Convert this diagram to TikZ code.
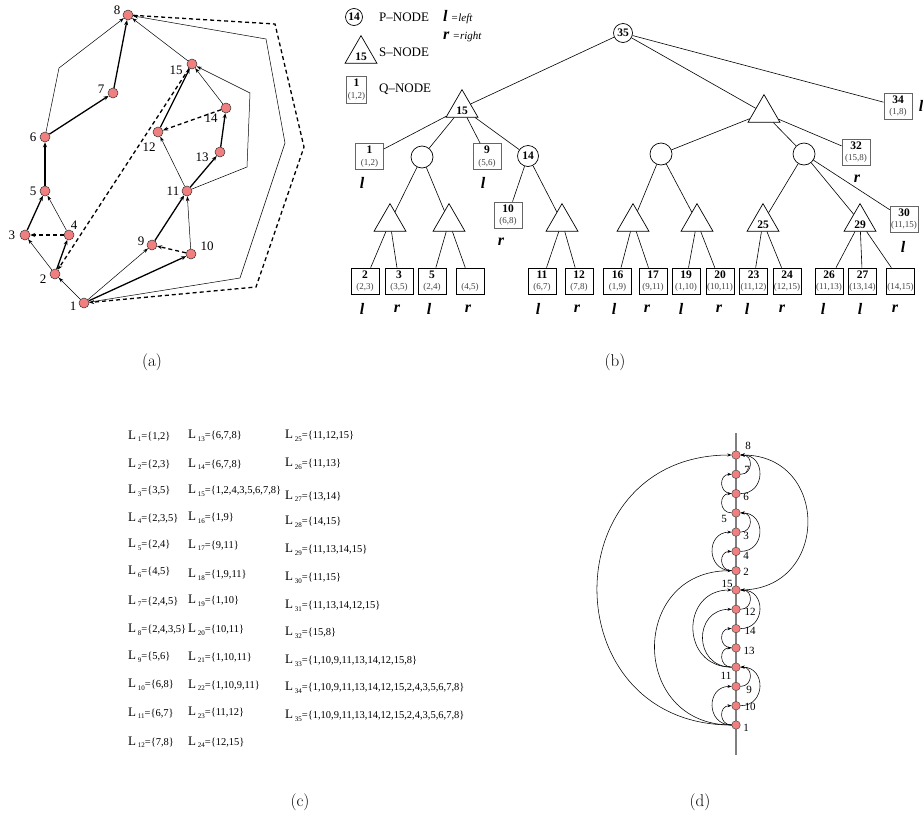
\documentclass[tikz,border=0pt]{standalone}
\usepackage{fontspec}
\usetikzlibrary{arrows.meta,shapes.geometric}
\newfontfamily\tnr{Liberation Serif}
\definecolor{nfill}{RGB}{240,128,128}
\definecolor{qgray}{gray}{0.4}
\newcommand{\qlab}[2]{\textbf{#1}\\[1.5pt]{\fontsize{9}{9}\selectfont\color{black!75}(#2)}}
\newcommand{\lsub}[2]{{\fontsize{13}{13}\selectfont L}\,\raisebox{-2.5pt}{\fontsize{7}{7}\selectfont #1}=\{#2\}}
\begin{document}
\begin{tikzpicture}[x=1pt,y=-1pt,
  gv/.style={circle,fill=nfill,draw=black!80,line width=0.5pt,inner sep=0pt,minimum size=10pt},
  glab/.style={font=\tnr\fontsize{13}{13}\selectfont,inner sep=0pt},
  thinA/.style={line width=0.5pt,-{Stealth[length=5pt,width=3.5pt]}},
  thickA/.style={line width=1.3pt,-{Stealth[length=5pt,width=4pt]}},
  dashA/.style={line width=1.3pt,dash pattern=on 4pt off 3pt,-{Stealth[length=5pt,width=4pt]}},
  pn/.style={circle,draw,line width=0.7pt,minimum size=21pt,inner sep=0pt,font=\tnr\bfseries\fontsize{11.5}{11.5}\selectfont},
  sn/.style={regular polygon,regular polygon sides=3,draw,line width=0.7pt,minimum size=35pt,inner sep=0pt,text height=13pt,text depth=0pt,font=\tnr\bfseries\fontsize{11.5}{11.5}\selectfont},
  qn/.style={rectangle,draw,line width=0.7pt,minimum width=28pt,minimum height=26pt,inner sep=0pt,align=center,font=\tnr\fontsize{11.5}{10}\selectfont},
  qg/.style={qn,draw=qgray},
  tl/.style={line width=0.6pt},
  lr/.style={font=\tnr\bfseries\itshape\fontsize{16}{16}\selectfont,inner sep=0pt},
  legt/.style={font=\tnr\fontsize{13}{13}\selectfont,anchor=west,inner sep=0pt},
  lst/.style={font=\tnr\fontsize{10.5}{11}\selectfont,anchor=west,inner sep=0pt},
  dv/.style={circle,fill=nfill,draw=black!70,line width=0.5pt,inner sep=0pt,minimum size=8.5pt},
  dlab/.style={font=\tnr\fontsize{11}{11}\selectfont,inner sep=0pt},
  dA/.style={line width=0.55pt,-{Stealth[length=4pt,width=3pt]}},
  captxt/.style={font=\fontsize{17}{17}\selectfont,inner sep=0pt}
]
\useasboundingbox (0,0) rectangle (923,817);

% ================= (a) =================
\node[gv] (v1) at (84,303) {};
\node[gv] (v2) at (55,274) {};
\node[gv] (v3) at (25,235) {};
\node[gv] (v4) at (69,235) {};
\node[gv] (v5) at (45,191) {};
\node[gv] (v6) at (45,137) {};
\node[gv] (v7) at (113,93) {};
\node[gv] (v8) at (128,15) {};
\node[gv] (v9) at (152,245) {};
\node[gv] (v10) at (191,254) {};
\node[gv] (v11) at (187,191) {};
\node[gv] (v12) at (158,132) {};
\node[gv] (v13) at (220,152) {};
\node[gv] (v14) at (226,108) {};
\node[gv] (v15) at (192,64) {};

\node[glab] (l1) at (73,306) {1};
\node[glab] (l2) at (43,279) {2};
\node[glab] (l3) at (12,235) {3};
\node[glab] (l4) at (74,225) {4};
\node[glab] (l5) at (33,191) {5};
\node[glab] (l6) at (33,137) {6};
\node[glab] (l7) at (101,89) {7};
\node[glab] (l8) at (117,10) {8};
\node[glab] (l9) at (141,241) {9};
\node[glab] (l10) at (207,246) {10};
\node[glab] (l11) at (173,191) {11};
\node[glab] (l12) at (149,147) {12};
\node[glab] (l13) at (202,157) {13};
\node[glab] (l14) at (211,118) {14};
\node[glab] (l15) at (176,70) {15};

\coordinate (p68) at (59,68);
\coordinate (p11a) at (247,167);
\coordinate (p11b) at (250,93);
\coordinate (p1a) at (240,278);
\coordinate (p1b) at (285,143);
\coordinate (p1c) at (266,39);
\coordinate (q1a) at (275,24);
\coordinate (q1b) at (304,147);
\coordinate (q1c) at (256,287);

\draw[thinA] (v1) -- (v2);
\draw[thinA] (v2) -- (v3);
\draw[thinA] (v4) -- (v5);
\draw[thinA] (v1) -- (v9);
\draw[thinA] (v10) -- (v11);
\draw[thinA] (v11) -- (v12);
\draw[thinA] (v14) -- (v15);
\draw[thinA] (v15) -- (v8);
\draw[thickA] (v2) -- (v4);
\draw[thickA] (v3) -- (v5);
\draw[thickA] (v5) -- (v6);
\draw[thickA] (v6) -- (v7);
\draw[thickA] (v7) -- (v8);
\draw[thickA] (v1) -- (v10);
\draw[thickA] (v9) -- (v11);
\draw[thickA] (v11) -- (v13);
\draw[thickA] (v13) -- (v14);
\draw[thickA] (v12) -- (v15);
\draw[dashA] (v4) -- (v3);
\draw[dashA] (v10) -- (v9);
\draw[dashA] (v14) -- (v12);
\draw[dashA] (v15) -- (v2);
\draw[thinA] (v6) -- (p68) -- (v8);
\draw[thinA] (v11) -- (p11a) -- (p11b) -- (v15);
\draw[thinA] (v1) -- (p1a) -- (p1b) -- (p1c) -- (v8);
\draw[dashA] (v8) -- (q1a) -- (q1b) -- (q1c) -- (v1);

\node[captxt] (capa) at (152,362) {(a)};

% ================= (b) =================
% legend
\node[pn,minimum size=17pt] (lgP) at (354,17) {14};
\node[sn] (lgS) at (361,54) {15};
\node[qg,minimum width=20pt,minimum height=27pt] (lgQ) at (356.5,89.5) {\qlab{1}{1,2}};
\node[legt] (lgPt) at (379,17) {P–NODE};
\node[legt] (lgSt) at (379,52) {S–NODE};
\node[legt] (lgQt) at (379,89) {Q–NODE};
\node[legt] (lgL) at (443,17) {{\bfseries\itshape\fontsize{16}{16}\selectfont l}\ {\itshape\fontsize{11}{11}\selectfont =left}};
\node[legt] (lgR) at (443,37) {{\bfseries\itshape\fontsize{16}{16}\selectfont r}\ {\itshape\fontsize{11}{11}\selectfont =right}};

% tree nodes
\node[pn,minimum size=19pt] (t35) at (623,33) {35};
\node[sn] (t15) at (462,108) {15};
\node[sn] (tU) at (764,113) {};
\node[qg] (b34) at (898,106) {\qlab{34}{1,8}};
\node[qg] (b32) at (856,152) {\qlab{32}{15,8}};
\node[qg] (b1) at (369.5,156.5) {\qlab{1}{1,2}};
\node[pn,minimum size=22pt] (pL) at (422,157) {};
\node[qg] (b9) at (487,156.5) {\qlab{9}{5,6}};
\node[pn] (p14) at (528,156) {14};
\node[pn,minimum size=22pt] (pM) at (661,154) {};
\node[pn,minimum size=22pt] (pR) at (804,154) {};
\node[qg] (b10) at (508,215) {\qlab{10}{6,8}};
\node[qg] (b30) at (904,219) {\qlab{30}{11,15}};

\node[sn] (sA) at (390,222) {};
\node[sn] (sB) at (449,222) {};
\node[sn] (sC) at (562,222) {};
\node[sn] (sD) at (633,222) {};
\node[sn] (sE) at (697,222) {};
\node[sn] (s25) at (763,222) {25};
\node[sn] (s29) at (860,222) {29};

\node[qn] (b2) at (365,281) {\qlab{2}{2,3}};
\node[qn] (b3) at (399,281) {\qlab{3}{3,5}};
\node[qn] (b5) at (432,281) {\qlab{5}{2,4}};
\node[qn] (b45) at (470,281) {\qlab{\phantom{0}}{4,5}};
\node[qn] (b11) at (542,281) {\qlab{11}{6,7}};
\node[qn] (b12) at (579,281) {\qlab{12}{7,8}};
\node[qn] (b16) at (617.5,281) {\qlab{16}{1,9}};
\node[qn] (b17) at (653,281) {\qlab{17}{9,11}};
\node[qn] (b19) at (686,281) {\qlab{19}{1,10}};
\node[qn] (b20) at (720,281) {\qlab{20}{10,11}};
\node[qn] (b23) at (753.5,281) {\qlab{23}{11,12}};
\node[qn] (b24) at (787,281) {\qlab{24}{12,15}};
\node[qn] (b26) at (829,281) {\qlab{26}{11,13}};
\node[qn] (b27) at (862.5,281) {\qlab{27}{13,14}};
\node[qn] (b1415) at (900.5,281) {\qlab{\phantom{0}}{14,15}};

% tree edges
\draw[tl] (t35) -- (t15);
\draw[tl] (t35) -- (tU);
\draw[tl] (t35) -- (b34);
\draw[tl] (t15) -- (b1);
\draw[tl] (t15) -- (pL);
\draw[tl] (t15) -- (b9);
\draw[tl] (t15) -- (p14);
\draw[tl] (tU) -- (pM);
\draw[tl] (tU) -- (pR);
\draw[tl] (tU) -- (b32);
\draw[tl] (pL) -- (sA);
\draw[tl] (pL) -- (sB);
\draw[tl] (sA) -- (b2);
\draw[tl] (sA) -- (b3);
\draw[tl] (sB) -- (b5);
\draw[tl] (sB) -- (b45);
\draw[tl] (p14) -- (b10);
\draw[tl] (p14) -- (sC);
\draw[tl] (sC) -- (b11);
\draw[tl] (sC) -- (b12);
\draw[tl] (pM) -- (sD);
\draw[tl] (pM) -- (sE);
\draw[tl] (sD) -- (b16);
\draw[tl] (sD) -- (b17);
\draw[tl] (sE) -- (b19);
\draw[tl] (sE) -- (b20);
\draw[tl] (pR) -- (s25);
\draw[tl] (pR) -- (s29);
\draw[tl] (pR) -- (b30);
\draw[tl] (s25) -- (b23);
\draw[tl] (s25) -- (b24);
\draw[tl] (s29) -- (b26);
\draw[tl] (s29) -- (b27);
\draw[tl] (s29) -- (b1415);

% l / r labels
\node[lr] (m1) at (362,183) {l};
\node[lr] (m9) at (483,183) {l};
\node[lr] (m10) at (501,242) {r};
\node[lr] (m32) at (857,179) {r};
\node[lr] (m30) at (903,247) {l};
\node[lr] (m34) at (921,106) {l};
\node[lr] (m2) at (362,309) {l};
\node[lr] (m3) at (397,309) {r};
\node[lr] (m5) at (429,309) {l};
\node[lr] (m45) at (468,309) {r};
\node[lr] (m11) at (538,309) {l};
\node[lr] (m12) at (577,309) {r};
\node[lr] (m16) at (614,309) {l};
\node[lr] (m17) at (647,309) {r};
\node[lr] (m19) at (681,309) {l};
\node[lr] (m20) at (719,309) {r};
\node[lr] (m23) at (747,309) {l};
\node[lr] (m24) at (782,309) {r};
\node[lr] (m26) at (823,309) {l};
\node[lr] (m27) at (860,309) {l};
\node[lr] (m1415) at (895,309) {r};

\node[captxt] (capb) at (615,362) {(b)};

% ================= (c) =================
\node[lst] (L1) at (128,436) {\lsub{1}{1,2}};
\node[lst] (L2) at (128,464) {\lsub{2}{2,3}};
\node[lst] (L3) at (128,491) {\lsub{3}{3,5}};
\node[lst] (L4) at (128,518) {\lsub{4}{2,3,5}};
\node[lst] (L5) at (128,545) {\lsub{5}{2,4}};
\node[lst] (L6) at (128,572) {\lsub{6}{4,5}};
\node[lst] (L7) at (128,601) {\lsub{7}{2,4,5}};
\node[lst] (L8) at (128,630) {\lsub{8}{2,4,3,5}};
\node[lst] (L9) at (128,657) {\lsub{9}{5,6}};
\node[lst] (L10) at (128,685) {\lsub{10}{6,8}};
\node[lst] (L11) at (128,713) {\lsub{11}{6,7}};
\node[lst] (L12) at (128,742) {\lsub{12}{7,8}};
\node[lst] (L13) at (188,436) {\lsub{13}{6,7,8}};
\node[lst] (L14) at (188,464) {\lsub{14}{6,7,8}};
\node[lst] (L15) at (188,491) {\lsub{15}{1,2,4,3,5,6,7,8}};
\node[lst] (L16) at (188,518) {\lsub{16}{1,9}};
\node[lst] (L17) at (188,545) {\lsub{17}{9,11}};
\node[lst] (L18) at (188,575) {\lsub{18}{1,9,11}};
\node[lst] (L19) at (188,601) {\lsub{19}{1,10}};
\node[lst] (L20) at (188,630) {\lsub{20}{10,11}};
\node[lst] (L21) at (188,657) {\lsub{21}{1,10,11}};
\node[lst] (L22) at (188,685) {\lsub{22}{1,10,9,11}};
\node[lst] (L23) at (188,713) {\lsub{23}{11,12}};
\node[lst] (L24) at (188,742) {\lsub{24}{12,15}};
\node[lst] (L25) at (285,436) {\lsub{25}{11,12,15}};
\node[lst] (L26) at (285,464) {\lsub{26}{11,13}};
\node[lst] (L27) at (285,496) {\lsub{27}{13,14}};
\node[lst] (L28) at (285,522) {\lsub{28}{14,15}};
\node[lst] (L29) at (285,550) {\lsub{29}{11,13,14,15}};
\node[lst] (L30) at (285,578) {\lsub{30}{11,15}};
\node[lst] (L31) at (285,606) {\lsub{31}{11,13,14,12,15}};
\node[lst] (L32) at (285,633) {\lsub{32}{15,8}};
\node[lst] (L33) at (285,661) {\lsub{33}{1,10,9,11,13,14,12,15,8}};
\node[lst] (L34) at (285,688) {\lsub{34}{1,10,9,11,13,14,12,15,2,4,3,5,6,7,8}};
\node[lst] (L35) at (285,716) {\lsub{35}{1,10,9,11,13,14,12,15,2,4,3,5,6,7,8}};

\node[captxt] (capc) at (300,802) {(c)};

% ================= (d) =================
\coordinate (dtop) at (736,433);
\coordinate (dbot) at (736,755);
\draw[gray,line width=1.2pt] (dtop) -- (dbot);
\node[dv] (d8) at (736,455) {};
\node[dv] (d7) at (736,474.3) {};
\node[dv] (d6) at (736,493.6) {};
\node[dv] (d5) at (736,512.9) {};
\node[dv] (d3) at (736,532.1) {};
\node[dv] (d4) at (736,551.4) {};
\node[dv] (d2) at (736,570.7) {};
\node[dv] (d15) at (736,590) {};
\node[dv] (d12) at (736,609.3) {};
\node[dv] (d14) at (736,628.6) {};
\node[dv] (d13) at (736,647.9) {};
\node[dv] (d11) at (736,667.1) {};
\node[dv] (d9) at (736,686.4) {};
\node[dv] (d10) at (736,705.7) {};
\node[dv] (d1) at (736,725) {};

\node[dlab] (e8) at (748,446) {8};
\node[dlab] (e7) at (747,470) {7};
\node[dlab] (e6) at (746,497) {6};
\node[dlab] (e5) at (724,519) {5};
\node[dlab] (e3) at (746,536) {3};
\node[dlab] (e4) at (746,556) {4};
\node[dlab] (e2) at (746,572) {2};
\node[dlab] (e15) at (727,584) {15};
\node[dlab] (e12) at (750,612) {12};
\node[dlab] (e14) at (750,631) {14};
\node[dlab] (e13) at (749,651) {13};
\node[dlab] (e11) at (726,676) {11};
\node[dlab] (e9) at (749,690) {9};
\node[dlab] (e10) at (750,707) {10};
\node[dlab] (e1) at (746,728) {1};

% left arcs
\foreach \a/\b in {1/8,1/2,11/15,11/12,11/13,1/10,1/9,13/14,2/4,2/3,5/6,6/7}
  \draw[dA] (d\a) to[out=180,in=180,looseness=1.7] (d\b);
% right arcs
\foreach \a/\b in {10/11,9/11,14/15,12/15,15/8,4/5,3/5,7/8,6/8}
  \draw[dA] (d\a) to[out=0,in=0,looseness=1.7] (d\b);

\node[captxt] (capd) at (700,802) {(d)};
\end{tikzpicture}
\end{document}
